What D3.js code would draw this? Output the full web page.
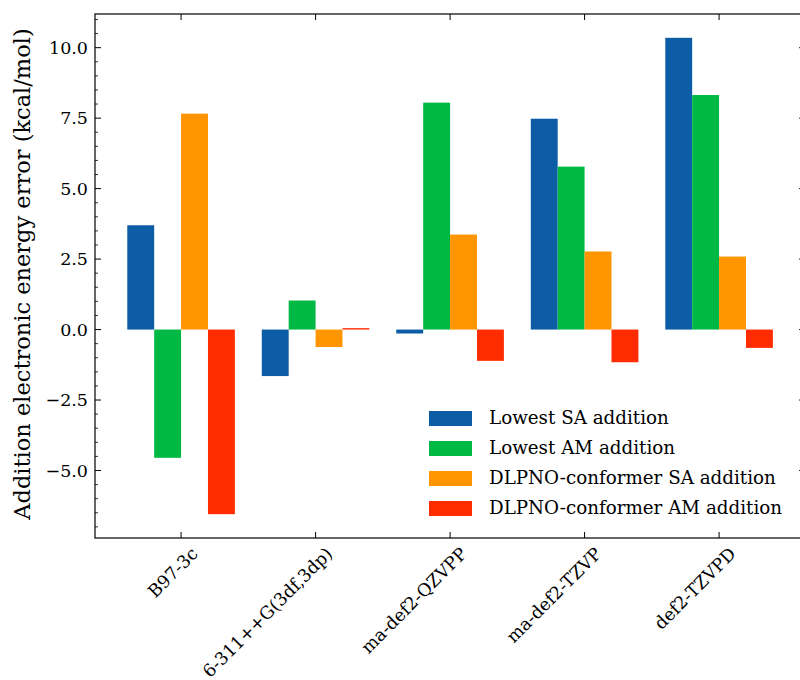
<!DOCTYPE html>
<html>
<head>
<meta charset="utf-8">
<script src="https://cdn.jsdelivr.net/npm/d3@7"></script>
<style>
  body { margin: 0; background: #fff; }
  text { font-family: "DejaVu Serif", serif; fill: #000; }
</style>
</head>
<body>
<div id="chart"></div>
<script>
const categories = ["B97-3c", "6-311++G(3df,3dp)", "ma-def2-QZVPP", "ma-def2-TZVP", "def2-TZVPD"];
const seriesNames = ["Lowest SA addition", "Lowest AM addition", "DLPNO-conformer SA addition", "DLPNO-conformer AM addition"];
const lowestSA = [3.70, -1.65, -0.14, 7.48, 10.35];
const lowestAM = [-4.55, 1.03, 8.05, 5.78, 8.32];
const dlpnoSA = [7.66, -0.62, 3.37, 2.77, 2.59];
const dlpnoAM = [-6.55, 0.05, -1.11, -1.16, -0.65];
const yTicks = [-5.0, -2.5, 0.0, 2.5, 5.0, 7.5, 10.0];
const colors = ["#0C5DA5", "#00B945", "#FF9500", "#FF2C00"];

const series = [lowestSA, lowestAM, dlpnoSA, dlpnoAM];

const W = 800, H = 680;
const margin = {top: 14, right: 0, bottom: 142, left: 95};

const svg = d3.select("#chart").append("svg")
    .attr("width", W).attr("height", H);

const barW = 0.2;
// x in category units, matplotlib-like margins
const x = d3.scaleLinear().domain([-0.64, 4.64]).range([margin.left, margin.left + 5.28 * 134.5]);
const y = d3.scaleLinear().domain([-7.395, 11.195]).range([H - margin.bottom, margin.top]);

const plot = svg.append("g");

// bars
series.forEach((vals, s) => {
    plot.selectAll(".bar" + s)
        .data(vals)
        .join("rect")
        .attr("x", (d, i) => x(i - 0.4 + s * barW))
        .attr("width", x(barW) - x(0))
        .attr("y", d => y(Math.max(0, d)))
        .attr("height", d => Math.abs(y(d) - y(0)))
        .attr("fill", colors[s]);
});

const x0 = x.range()[0], x1 = x.range()[1];
const y0 = y.range()[1], y1 = y.range()[0];

// minor y ticks
const minor = d3.range(-7.0, 11.01, 0.5).filter(v => Math.abs(v / 2.5 - Math.round(v / 2.5)) > 1e-6);
const tickG = svg.append("g").attr("stroke", "#000");
minor.forEach(v => {
    tickG.append("line").attr("x1", x0).attr("x2", x0 + 3).attr("y1", y(v)).attr("y2", y(v)).attr("stroke-width", 0.8);
    tickG.append("line").attr("x1", x1).attr("x2", x1 - 3).attr("y1", y(v)).attr("y2", y(v)).attr("stroke-width", 0.8);
});
yTicks.forEach(v => {
    tickG.append("line").attr("x1", x0).attr("x2", x0 + 6).attr("y1", y(v)).attr("y2", y(v)).attr("stroke-width", 1);
    tickG.append("line").attr("x1", x1).attr("x2", x1 - 6).attr("y1", y(v)).attr("y2", y(v)).attr("stroke-width", 1);
});
categories.forEach((c, i) => {
    tickG.append("line").attr("x1", x(i)).attr("x2", x(i)).attr("y1", y1).attr("y2", y1 - 6).attr("stroke-width", 1);
    tickG.append("line").attr("x1", x(i)).attr("x2", x(i)).attr("y1", y0).attr("y2", y0 + 6).attr("stroke-width", 1);
});

// frame
svg.append("rect")
    .attr("x", x0).attr("y", y0)
    .attr("width", x1 - x0).attr("height", y1 - y0)
    .attr("fill", "none").attr("stroke", "#000").attr("stroke-width", 1.2);

// y tick labels
svg.append("g").selectAll("text")
    .data(yTicks)
    .join("text")
    .attr("x", x0 - 7)
    .attr("y", d => y(d))
    .attr("dy", "0.35em")
    .attr("text-anchor", "end")
    .attr("font-size", 17.5)
    .text(d => d.toFixed(1).replace("-", "\u2212"));

// x tick labels
svg.append("g").selectAll("text")
    .data(categories)
    .join("text")
    .attr("transform", (d, i) => `translate(${x(i) + 9},${y1 + 8}) rotate(-45)`)
    .attr("text-anchor", "end")
    .attr("dy", "0.72em")
    .attr("font-size", 17.5)
    .text(d => d);

// y label
svg.append("text")
    .attr("transform", `translate(30,${(y0 + y1) / 2 - 2}) rotate(-90)`)
    .attr("text-anchor", "middle")
    .attr("font-size", 22.5)
    .text("Addition electronic energy error (kcal/mol)");

// legend
const leg = svg.append("g");
seriesNames.forEach((n, i) => {
    const ly = 418 + i * 30;
    leg.append("rect").attr("x", 429).attr("y", ly - 7).attr("width", 43).attr("height", 15).attr("fill", colors[i]);
    leg.append("text").attr("x", 489).attr("y", ly).attr("dy", "0.35em").attr("font-size", 18.3).text(n);
});
</script>
</body>
</html>
